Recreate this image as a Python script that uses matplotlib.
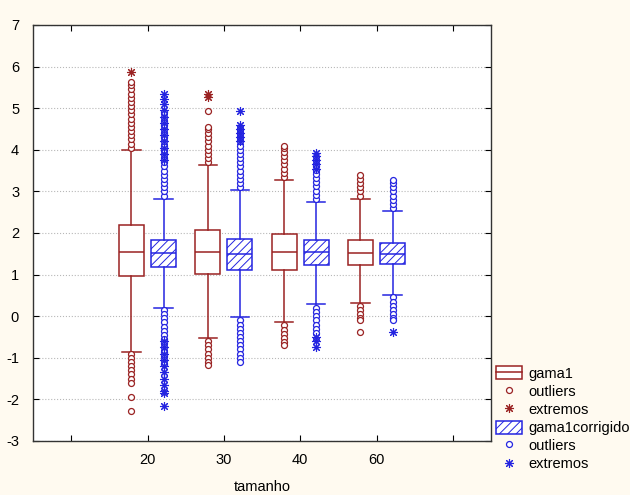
import matplotlib
matplotlib.use('Agg')
import matplotlib.pyplot as plt
from matplotlib.patches import Patch
from matplotlib.lines import Line2D

plt.rcParams['font.family'] = ['Liberation Sans', 'DejaVu Sans']
plt.rcParams['axes.unicode_minus'] = False
plt.rcParams['hatch.linewidth'] = 0.7

categories = ['20', '30', '40', '60']

# gama1 (red)
g1_q1 = [0.97, 1.02, 1.11, 1.23]
g1_med = [1.55, 1.55, 1.54, 1.53]
g1_q3 = [2.19, 2.07, 1.98, 1.83]
g1_wlo = [-0.85, -0.52, -0.14, 0.32]
g1_whi = [4.00, 3.63, 3.27, 2.82]
g1_outliers = [
    [4.05, 4.15, 4.25, 4.35, 4.45, 4.55, 4.65, 4.75, 4.85, 4.95, 5.05, 5.15, 5.25, 5.35, 5.45, 5.55, 5.63,
     -0.90, -1.00, -1.10, -1.20, -1.30, -1.40, -1.50, -1.60, -1.95, -2.28],
    [3.70, 3.80, 3.90, 4.00, 4.10, 4.20, 4.30, 4.40, 4.50, 4.56, 4.94,
     -0.60, -0.70, -0.80, -0.90, -1.00, -1.10, -1.17],
    [3.35, 3.45, 3.55, 3.65, 3.75, 3.85, 3.95, 4.05, 4.10,
     -0.22, -0.32, -0.42, -0.52, -0.62, -0.69],
    [2.90, 3.00, 3.10, 3.20, 3.30, 3.39,
     0.25, 0.15, 0.05, -0.05, -0.09, -0.37],
]
g1_extremes = [
    [5.88],
    [5.28, 5.34],
    [],
    [],
]

# gama1corrigido (blue)
g2_q1 = [1.18, 1.11, 1.23, 1.25]
g2_med = [1.53, 1.50, 1.54, 1.50]
g2_q3 = [1.83, 1.86, 1.83, 1.77]
g2_wlo = [0.20, -0.01, 0.29, 0.51]
g2_whi = [2.82, 3.03, 2.75, 2.53]
g2_outliers = [
    [2.90, 3.00, 3.10, 3.20, 3.30, 3.40, 3.50, 3.60, 3.70, 3.80, 3.90, 4.00, 4.10, 4.20, 4.30, 4.40, 4.50,
     4.60, 4.70, 4.80, 4.90,
     0.15, 0.05, -0.05, -0.15, -0.25, -0.35, -0.45, -0.55, -0.65, -0.75, -0.85, -0.95, -1.05, -1.15],
    [3.10, 3.20, 3.30, 3.40, 3.50, 3.60, 3.70, 3.80, 3.90, 4.00, 4.10, 4.20, 4.30, 4.40, 4.50,
     -0.10, -0.20, -0.30, -0.40, -0.50, -0.60, -0.70, -0.80, -0.90, -1.00, -1.10],
    [2.82, 2.92, 3.02, 3.12, 3.22, 3.32, 3.42, 3.52, 3.60,
     0.20, 0.10, 0.00, -0.10, -0.20, -0.30, -0.41],
    [2.60, 2.70, 2.80, 2.90, 3.00, 3.10, 3.20, 3.27,
     0.45, 0.35, 0.25, 0.15, 0.05, -0.05, -0.10],
]
g2_extremes = [
    [3.75, 3.90, 4.05, 4.20, 4.35, 4.50, 4.65, 4.80, 4.95, 5.10, 5.22, 5.35,
     -0.60, -0.75, -0.90, -1.05, -1.20, -1.35, -1.50, -1.65, -1.80, -1.85, -2.16],
    [4.20, 4.30, 4.40, 4.50, 4.60, 4.93],
    [3.55, 3.65, 3.75, 3.85, 3.92, -0.50, -0.60, -0.73],
    [-0.37],
]

RED = '#9a2222'
BLUE = '#2424e0'
FS = 10.5

fig = plt.figure(figsize=(6.3, 4.95), dpi=100, facecolor='#fffaf0')
ax = fig.add_axes([33/630, 1-441/495, (491-33)/630, (441-25)/495])
ax.set_facecolor('white')

centers = [1, 2, 3, 4]
off = 0.21
bw = 0.33


def stats(q1, med, q3, lo, hi):
    return [dict(q1=a, med=b, q3=c, whislo=d, whishi=e, fliers=[])
            for a, b, c, d, e in zip(q1, med, q3, lo, hi)]


b1 = ax.bxp(stats(g1_q1, g1_med, g1_q3, g1_wlo, g1_whi),
            positions=[c - off for c in centers], widths=bw, capwidths=0.24,
            patch_artist=True, showfliers=False,
            boxprops=dict(facecolor='white', edgecolor=RED, linewidth=1.1),
            medianprops=dict(color=RED, linewidth=1.1),
            whiskerprops=dict(color=RED, linewidth=1.1),
            capprops=dict(color=RED, linewidth=1.1), manage_ticks=False)
b2 = ax.bxp(stats(g2_q1, g2_med, g2_q3, g2_wlo, g2_whi),
            positions=[c + off for c in centers], widths=bw, capwidths=0.24,
            patch_artist=True, showfliers=False,
            boxprops=dict(facecolor='white', edgecolor=BLUE, linewidth=1.1, hatch='////'),
            medianprops=dict(color=BLUE, linewidth=1.1),
            whiskerprops=dict(color=BLUE, linewidth=1.1),
            capprops=dict(color=BLUE, linewidth=1.1), manage_ticks=False)

ast = (8, 2, 0)
for i, c in enumerate(centers):
    ax.plot([c - off] * len(g1_outliers[i]), g1_outliers[i], 'o', ls='none',
            mfc='white', mec=RED, ms=4.3, mew=0.9)
    ax.plot([c - off] * len(g1_extremes[i]), g1_extremes[i], marker=ast, ls='none',
            mec=RED, color=RED, ms=6.5, mew=0.8)
    ax.plot([c + off] * len(g2_outliers[i]), g2_outliers[i], 'o', ls='none',
            mfc='white', mec=BLUE, ms=4.3, mew=0.9)
    ax.plot([c + off] * len(g2_extremes[i]), g2_extremes[i], marker=ast, ls='none',
            mec=BLUE, color=BLUE, ms=6.5, mew=0.8)

ax.set_xlim(-0.5, 5.5)
ax.set_ylim(-3, 7)
ax.set_xticks([0, 1, 2, 3, 4, 5])
ax.set_xticklabels([''] + categories + [''])
ax.set_yticks(range(-3, 8))
ax.tick_params(direction='in', top=True, right=True, length=4, labelsize=FS, pad=9)
ax.tick_params(axis='y', pad=10)
ax.yaxis.grid(True, linestyle=':', color='#b8b8b8', linewidth=0.8)
ax.set_axisbelow(True)
for s in ax.spines.values():
    s.set_linewidth(1.0)
    s.set_color('#333333')
ax.set_xlabel('tamanho', fontsize=FS, labelpad=9)

h1 = (Patch(facecolor='white', edgecolor=RED, linewidth=1.1),
      Line2D([], [], color=RED, linewidth=1.1))
h2 = Line2D([], [], marker='o', ls='none', mfc='white', mec=RED, ms=4.3, mew=0.9)
h3 = Line2D([], [], marker=ast, ls='none', mec=RED, color=RED, ms=6.5, mew=0.8)
h4 = Patch(facecolor='white', edgecolor=BLUE, linewidth=1.1, hatch='////')
h5 = Line2D([], [], marker='o', ls='none', mfc='white', mec=BLUE, ms=4.3, mew=0.9)
h6 = Line2D([], [], marker=ast, ls='none', mec=BLUE, color=BLUE, ms=6.5, mew=0.8)
fig.legend([h1, h2, h3, h4, h5, h6],
           ['gama1', 'outliers', 'extremos', 'gama1corrigido', 'outliers', 'extremos'],
           loc='upper left', bbox_to_anchor=(496/630, 1-366/495), frameon=False,
           fontsize=FS, handlelength=1.8, handleheight=1.0, handletextpad=0.45,
           labelspacing=0.25, borderaxespad=0, borderpad=0)

fig.savefig('out.png', dpi=100, facecolor=fig.get_facecolor())
